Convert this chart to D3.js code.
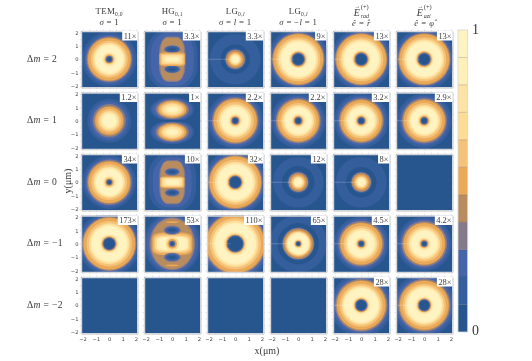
<!DOCTYPE html>
<html>
<head>
<meta charset="utf-8">
<script src="https://cdn.jsdelivr.net/npm/d3@7"></script>
<style>
  body { margin: 0; background: #fff; }
  svg { display: block; filter: blur(0.3px); }
  text { font-family: "Liberation Serif", serif; fill: #3a3a3a; }
  .tick text { font-family: "DejaVu Sans", sans-serif; font-size: 5.2px; fill: #444; }
</style>
</head>
<body>
<svg width="532" height="361"></svg>
<script>
// colour bands of the contour legend, low to high
const bandColors = ["#27568f", "#355e9d", "#4665a9", "#847a8a", "#b98c5f", "#e9a957",
  "#f5c27a", "#fedc96", "#fee3a4", "#fef0b8", "#fff3c2"];

const rowLabels = ["2", "1", "0", "\u22121", "\u22122"];
const tickValues = [-2, -1, 0, 1, 2];
const minorTicks = [-2, -1.5, -1, -0.5, 0, 0.5, 1, 1.5, 2];

const enhancement = [
  ["11×", "3.3×", "3.3×", "9×", "13×", "13×"],
  ["1.2×", "1×", "2.2×", "2.2×", "3.2×", "2.9×"],
  ["34×", "10×", "32×", "12×", "8×", ""],
  ["173×", "53×", "110×", "65×", "4.5×", "4.2×"],
  ["", "", "", "", "28×", "28×"]
];

// band painted for each radius below, biggest disc first
const donutBands = [1, 2, 3, 4, 5, 6, 7, 8, 9, 10, 9, 8, 7, 6, 5, 4, 3, 2, 1, 0];
const spotBands = [1, 2, 3, 4, 5, 6, 7, 8, 9, 10];
const ringSpotBands = [1, 0, 1, 2, 3, 4, 5, 6, 7, 8, 9, 10];
const ringDonutBands = [1, 0].concat(donutBands);

// radii in um
const tem2 = [2.05, 1.85, 1.72, 1.66, 1.6, 1.39, 1.23, 1.15, 1.08, 1.0, 0.55, 0.49, 0.43, 0.38, 0.33, 0.29, 0.25, 0.22, 0.18, 0.14];
const tem0 = [2.0, 1.82, 1.7, 1.62, 1.56, 1.35, 1.18, 1.1, 1.03, 0.95, 0.5, 0.45, 0.39, 0.34, 0.29, 0.25, 0.21, 0.18, 0.15, 0.12];
const temM1 = [2.35, 2.18, 2.05, 2.0, 1.94, 1.71, 1.53, 1.45, 1.37, 1.28, 0.74, 0.68, 0.63, 0.59, 0.55, 0.51, 0.48, 0.45, 0.42, 0.38];
const lg1 = [2.1, 1.92, 1.76, 1.68, 1.62, 1.4, 1.22, 1.14, 1.06, 0.98, 0.55, 0.5, 0.44, 0.39, 0.34, 0.3, 0.26, 0.23, 0.2, 0.16];
const lg0 = [2.4, 2.2, 2.05, 1.98, 1.93, 1.7, 1.53, 1.44, 1.36, 1.28, 0.74, 0.68, 0.63, 0.59, 0.55, 0.51, 0.48, 0.45, 0.42, 0.38];
const lgM1 = [2.7, 2.5, 2.32, 2.25, 2.18, 1.93, 1.74, 1.65, 1.56, 1.47, 0.92, 0.85, 0.79, 0.74, 0.7, 0.66, 0.63, 0.6, 0.57, 0.53];
const wide = [2.3, 2.12, 1.98, 1.94, 1.87, 1.66, 1.5, 1.42, 1.34, 1.27, 0.72, 0.68, 0.64, 0.6, 0.56, 0.52, 0.48, 0.45, 0.42, 0.38];
const mid = [2.05, 1.85, 1.7, 1.63, 1.55, 1.34, 1.18, 1.1, 1.03, 0.95, 0.55, 0.5, 0.45, 0.4, 0.35, 0.31, 0.27, 0.24, 0.21, 0.17];
const mid2 = [2.05, 1.87, 1.72, 1.62, 1.56, 1.34, 1.18, 1.09, 1.02, 0.94, 0.5, 0.45, 0.4, 0.35, 0.3, 0.27, 0.23, 0.2, 0.17, 0.13];
const plusMinus2 = [2.35, 2.15, 1.98, 1.9, 1.83, 1.62, 1.46, 1.39, 1.32, 1.24, 0.7, 0.64, 0.59, 0.55, 0.51, 0.48, 0.45, 0.42, 0.39, 0.35];
const tem1Spot = [1.65, 1.45, 1.25, 1.13, 1.05, 0.88, 0.74, 0.66, 0.57, 0.48];
const lg2Spot = [1.9, 1.1, 0.82, 0.78, 0.74, 0.7, 0.57, 0.46, 0.4, 0.34, 0.29, 0.24];
const lg0Spot = [1.9, 1.22, 0.84, 0.79, 0.75, 0.72, 0.58, 0.47, 0.41, 0.35, 0.3, 0.24];
const rad0Spot = [1.9, 1.15, 0.82, 0.78, 0.74, 0.71, 0.58, 0.47, 0.41, 0.36, 0.3, 0.25];
const lgM1Ring = [2.15, 1.55, 1.25, 1.2, 1.17, 1.14, 1.02, 0.93, 0.88, 0.84, 0.8, 0.74, 0.38, 0.34, 0.3, 0.27, 0.24, 0.21, 0.18, 0.16, 0.14, 0.11];

// Hermite-Gauss panels: [x, y, half width, half height, corner, band], y != 0 is mirrored
const hg2 = [[0, 0, 1.9, 2.25, 0.8, 1], [0, 0, 1.62, 2.0, 0.8, 2], [0, 0, 1.0, 1.7, 0.7, 3], [0, 0, 0.88, 1.62, 0.6, 4],
  [0, 0.75, 0.62, 0.3, 1, 3], [0, 0.75, 0.55, 0.26, 1, 2], [0, 0.75, 0.45, 0.2, 1, 1], [0, 0.75, 0.28, 0.1, 1, 0],
  [0, 0, 0.97, 0.5, 0.35, 5], [0, 0, 0.88, 0.42, 0.35, 6], [0, 0, 0.78, 0.34, 0.35, 7], [0, 0, 0.66, 0.26, 0.4, 8], [0, 0, 0.52, 0.18, 0.5, 9], [0, 0, 0.37, 0.1, 0.8, 10]];
const hg1 = [[0, 0.85, 1.65, 0.9, 1, 1], [0, 0.85, 1.5, 0.82, 1, 2], [0, 0.85, 1.25, 0.74, 1, 3], [0, 0.85, 1.12, 0.68, 1, 4], [0, 0.85, 1.04, 0.63, 1, 5],
  [0, 0.85, 0.9, 0.53, 1, 6], [0, 0.85, 0.76, 0.44, 1, 7], [0, 0.85, 0.62, 0.34, 1, 8], [0, 0.85, 0.48, 0.24, 1, 9], [0, 0.85, 0.32, 0.14, 1, 10], [0, 0, 2.3, 0.07, 0, 0]];
const hg0 = [[0, 0, 1.8, 2.15, 0.8, 1], [0, 0, 1.45, 1.88, 0.8, 2], [0, 0, 0.98, 1.66, 0.7, 3], [0, 0, 0.88, 1.58, 0.6, 4],
  [0, 0.78, 0.58, 0.3, 1, 3], [0, 0.78, 0.5, 0.24, 1, 2], [0, 0.78, 0.4, 0.18, 1, 1], [0, 0.78, 0.24, 0.09, 1, 0],
  [0, 0, 0.92, 0.44, 0.35, 5], [0, 0, 0.84, 0.37, 0.35, 6], [0, 0, 0.76, 0.32, 0.35, 7], [0, 0, 0.66, 0.26, 0.4, 8], [0, 0, 0.54, 0.2, 0.5, 9], [0, 0, 0.4, 0.11, 0.8, 10]];
const hgM1 = [[0, 0, 2.15, 2.3, 1, 1], [0, 0, 1.95, 2.12, 1, 2], [0, 0, 1.72, 1.98, 1, 3], [0, 0, 1.62, 1.9, 1, 4], [0, 1.62, 0.5, 0.06, 1, 5],
  [0, 0, 1.5, 0.85, 0.5, 5], [0, 0, 1.4, 0.72, 0.5, 6], [0, 0, 1.28, 0.6, 0.5, 7], [0, 0, 1.15, 0.5, 0.5, 9], [0, 0, 0.95, 0.42, 0.5, 10],
  [0, 0, 0.5, 0.55, 1, 7], [0, 0, 0.36, 0.38, 1, 5], [0, 0, 0.26, 0.27, 1, 4], [0, 0, 0.2, 0.2, 1, 2], [0, 0, 0.12, 0.12, 1, 0],
  [0, 1.02, 0.65, 0.35, 1, 3], [0, 1.02, 0.55, 0.28, 1, 2], [0, 1.02, 0.42, 0.2, 1, 1], [0, 1.02, 0.28, 0.11, 1, 0]];

const radialPanels = [
  [[tem2, donutBands], null, [lg2Spot, ringSpotBands], [wide, donutBands], [wide, donutBands], [wide, donutBands]],
  [[tem1Spot, spotBands], null, [lg1, donutBands], [mid, donutBands], [mid, donutBands], [mid, donutBands]],
  [[tem0, donutBands], null, [lg0, donutBands], [lg0Spot, ringSpotBands], [rad0Spot, ringSpotBands], null],
  [[temM1, donutBands], null, [lgM1, donutBands], [lgM1Ring, ringDonutBands], [mid2, donutBands], [mid2, donutBands]],
  [null, null, null, null, [plusMinus2, donutBands], [plusMinus2, donutBands]]
];
const hgPanels = [hg2, hg1, hg0, hgM1, null];

const svg = d3.select("svg");
const panelSize = 56.5;
const colScale = d3.scalePoint().domain(d3.range(6)).range([81, 396]);
const rowScale = d3.scalePoint().domain(d3.range(5)).range([31, 277]);
const x = d3.scaleLinear().domain([-2.12, 2.12]).range([0, panelSize]);
const y = d3.scaleLinear().domain([-2.12, 2.12]).range([panelSize, 0]);
const frameColor = "#d4d6da";

svg.append("defs").append("clipPath").attr("id", "panelClip")
  .append("rect").attr("width", panelSize).attr("height", panelSize);

function styleAxis(g) {
  g.selectAll(".domain").attr("stroke", frameColor).attr("stroke-width", 1.4);
  g.selectAll("line").attr("stroke", "#c4c6ca").attr("stroke-width", 0.5);
}

function drawPanel(row, col) {
  const g = svg.append("g")
    .attr("transform", `translate(${colScale(col)},${rowScale(row)})`);
  const body = g.append("g").attr("clip-path", "url(#panelClip)");
  body.append("rect").attr("width", panelSize).attr("height", panelSize).attr("fill", bandColors[0]);

  const radial = radialPanels[row][col];
  if (radial) {
    const [radii, bands] = radial;
    body.selectAll("ellipse").data(radii).enter().append("ellipse")
      .attr("cx", x(0))
      .attr("cy", y(0))
      .attr("rx", d => x(d) - x(0))
      .attr("ry", d => x(d) - x(0))
      .attr("fill", (d, i) => bandColors[bands[i]]);
  }
  if (col == 1 && hgPanels[row]) {
    const shapes = hgPanels[row].flatMap(s => s[1] != 0 ? [s, [s[0], -s[1], s[2], s[3], s[4], s[5]]] : [s]);
    body.selectAll("rect.shape").data(shapes).enter().append("rect")
      .classed("shape", true)
      .attr("x", d => x(d[0] - d[2]))
      .attr("y", d => y(d[1] + d[3]))
      .attr("width", d => x(d[2]) - x(-d[2]))
      .attr("height", d => y(-d[3]) - y(d[3]))
      .attr("rx", d => (x(d[2]) - x(0)) * d[4])
      .attr("ry", d => (x(d[3]) - x(0)) * d[4])
      .attr("fill", d => bandColors[d[5]]);
  }
  // faint branch cut left by the plotting routine
  if (radial && col >= 2) {
    body.append("line")
      .attr("x1", x(-2.12)).attr("x2", x(-0.35))
      .attr("y1", y(0)).attr("y2", y(0))
      .attr("stroke", "#fff").attr("stroke-opacity", 0.3).attr("stroke-width", 0.7);
  }

  // frame and ticks on all four sides
  const sides = [
    [d3.axisTop(x), 0, 0], [d3.axisBottom(x), 0, panelSize],
    [d3.axisLeft(y), 0, 0], [d3.axisRight(y), panelSize, 0]
  ];
  sides.forEach(([axis, tx, ty]) => {
    g.append("g").attr("transform", `translate(${tx},${ty})`)
      .call(axis.tickValues(minorTicks).tickSize(1.5).tickSizeOuter(0).tickFormat(""))
      .call(styleAxis);
  });
  if (row == 4) {
    g.append("g").attr("transform", `translate(0,${panelSize + 1.5})`)
      .call(d3.axisBottom(x).tickValues(tickValues).tickSize(0).tickPadding(2).tickFormat(d => d < 0 ? "\u2212" + (-d) : d))
      .call(a => a.select(".domain").remove());
  }
  if (col == 0) {
    g.append("g").attr("transform", "translate(-1,0)")
      .call(d3.axisLeft(y).tickValues(tickValues).tickSize(0).tickPadding(1.5).tickFormat(d => d < 0 ? "\u2212" + (-d) : d))
      .call(a => a.select(".domain").remove());
  }

  // enhancement factor badge
  const label = enhancement[row][col];
  if (label) {
    const box = g.append("rect").attr("fill", "#fff").attr("y", 0).attr("height", 9.5);
    const t = g.append("text")
      .attr("x", panelSize - 1).attr("y", 7.5)
      .attr("text-anchor", "end").attr("font-size", 8.4)
      .text(label);
    const w = t.node().getComputedTextLength() + 2.5;
    box.attr("x", panelSize - w).attr("width", w);
  }
}

d3.range(5).forEach(r => d3.range(6).forEach(c => drawPanel(r, c)));

// headers
function header(col, yPos, parts) {
  const t = svg.append("text")
    .attr("x", colScale(col) + panelSize / 2).attr("y", yPos)
    .attr("text-anchor", "middle").attr("font-size", 8.8)
    .attr("letter-spacing", 0.3);
  parts.forEach(p => {
    const s = t.append("tspan").text(p.s);
    if (p.i) s.attr("font-style", "italic");
    if (p.dy) s.attr("dy", p.dy);
    if (p.fs) s.attr("font-size", p.fs);
  });
}

header(0, 14, [{ s: "TEM" }, { s: "0,0", dy: 1.8, fs: 5.6 }]);
header(1, 14, [{ s: "HG" }, { s: "0,1", dy: 1.8, fs: 5.6 }]);
header(2, 14, [{ s: "LG" }, { s: "0,", dy: 1.8, fs: 5.6 }, { s: "l", fs: 5.6, i: true }]);
header(3, 14, [{ s: "LG" }, { s: "0,", dy: 1.8, fs: 5.6 }, { s: "l", fs: 5.6, i: true }]);
header(0, 25, [{ s: "σ", i: true }, { s: " = 1" }]);
header(1, 25, [{ s: "σ", i: true }, { s: " = 1" }]);
header(2, 25, [{ s: "σ", i: true }, { s: " = " }, { s: "l", i: true }, { s: " = 1" }]);
header(3, 25, [{ s: "σ", i: true }, { s: " = \u2212" }, { s: "l", i: true }, { s: " = 1" }]);

[["rad", "ê = r̂"], ["azi", "ê = φ̂"]].forEach(([name, pol], i) => {
  const col = 4 + i;
  const cx = colScale(col) + panelSize / 2;
  svg.append("text").attr("x", cx - 7.5).attr("y", 16)
    .attr("font-size", 10).attr("font-style", "italic").text("E");
  svg.append("text").attr("x", cx - 0.5).attr("y", 17.5)
    .attr("font-size", 6).attr("font-style", "italic").text(name);
  svg.append("text").attr("x", cx - 0.5).attr("y", 9)
    .attr("font-size", 6.4).text("(+)");
  svg.append("text").attr("x", cx - 4).attr("y", 7.5).attr("text-anchor", "middle")
    .attr("font-size", 5.5).text("→");
  svg.append("text").attr("x", cx).attr("y", 26).attr("text-anchor", "middle")
    .attr("font-size", 8.5).attr("letter-spacing", 0.3).attr("font-style", "italic").text(pol);
});

// row labels
rowLabels.forEach((d, i) => {
  const t = svg.append("text")
    .attr("x", 27).attr("y", rowScale(i) + panelSize / 2 + 2.5)
    .attr("font-size", 9.6).attr("letter-spacing", 0.35);
  t.append("tspan").text("Δ");
  t.append("tspan").attr("font-style", "italic").text("m");
  t.append("tspan").text(" = " + d);
});

svg.append("text").attr("transform", "translate(70.5,181) rotate(-90)")
  .attr("text-anchor", "middle").attr("font-size", 10).text("y(μm)");
svg.append("text").attr("x", 267).attr("y", 354)
  .attr("text-anchor", "middle").attr("font-size", 10).text("x(μm)");

// colour bar
const barY = d3.scaleLinear().domain([0, bandColors.length]).range([332, 30]);
const bar = svg.append("g");
bar.selectAll("rect").data(bandColors).enter().append("rect")
  .attr("x", 458).attr("width", 9.7)
  .attr("y", (d, i) => barY(i + 1))
  .attr("height", (d, i) => barY(i) - barY(i + 1))
  .attr("fill", d => d);
bar.selectAll("line").data(d3.range(1, bandColors.length)).enter().append("line")
  .attr("x1", 458).attr("x2", 467.7)
  .attr("y1", d => barY(d)).attr("y2", d => barY(d))
  .attr("stroke", "#000").attr("stroke-opacity", 0.25).attr("stroke-width", 0.7);
bar.append("rect").attr("x", 458).attr("y", 30).attr("width", 9.7).attr("height", 302)
  .attr("fill", "none").attr("stroke", frameColor).attr("stroke-width", 0.8);
svg.append("text").attr("x", 472).attr("y", 34).attr("font-size", 14).text("1");
svg.append("text").attr("x", 472).attr("y", 335).attr("font-size", 14).text("0");
</script>
</body>
</html>
